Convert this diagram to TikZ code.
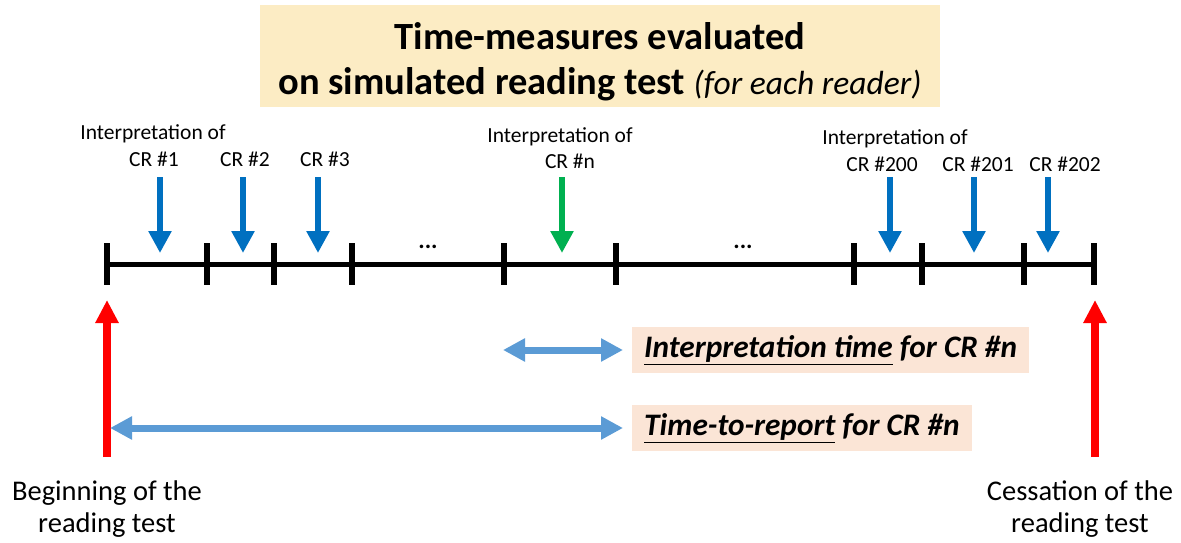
\documentclass[tikz,border=0pt]{standalone}
\usepackage{fontspec}
\setmainfont{Carlito}
\usetikzlibrary{arrows.meta}
\definecolor{crblue}{HTML}{0070C0}
\definecolor{crgreen}{HTML}{00B050}
\definecolor{spanblue}{HTML}{5B9BD5}
\definecolor{titlefill}{HTML}{FCECC4}
\definecolor{labelfill}{HTML}{FBE5D6}
\tikzset{
  timeline/.style={line width=5pt},
  tickmark/.style={line width=6pt},
  crarrow/.style={line width=6pt,crblue,-{Triangle[width=22pt,length=22pt]}},
  redarrow/.style={line width=8pt,red,-{Triangle[width=22pt,length=23pt]}},
  spanarrow/.style={line width=7pt,spanblue,{Triangle[width=22pt,length=22pt]}-{Triangle[width=22pt,length=22pt]}},
  smalllabel/.style={anchor=base,inner sep=0pt,font=\fontsize{21.5}{26}\selectfont},
  spanlabel/.style={anchor=west,fill=labelfill,inner xsep=12pt,inner ysep=0pt,minimum height=46pt,font=\fontsize{31.3}{36}\selectfont\bfseries\itshape},
  endlabel/.style={anchor=north,inner sep=0pt,align=center,font=\fontsize{28.5}{32}\selectfont}
}
\begin{document}
\begin{tikzpicture}[x=1pt,y=-1pt]
\useasboundingbox (0,0) rectangle (1181,543);
\fill[titlefill] (260,5) rectangle (940,107);
\node[align=center,inner sep=0pt,font=\fontsize{38.5}{45}\selectfont\bfseries] (title) at (600,62)
  {Time-measures evaluated\\on simulated reading test {\mdseries\itshape\fontsize{33.5}{45}\selectfont (for each reader)}};
\draw[timeline] (107,264) coordinate (start) -- (1095,264) coordinate (stop);
\foreach \x [count=\i] in {107,207,274,352,504,616,854,922,1024,1094}
  \draw[tickmark] (\x,243) coordinate (top\i) -- (\x,285) coordinate (bot\i);
\node[smalllabel] (int1) at (153,139) {Interpretation of};
\node[smalllabel] (cr1) at (154,166) {CR \#1};
\node[smalllabel] (cr2) at (245,166) {CR \#2};
\node[smalllabel] (cr3) at (325,166) {CR \#3};
\node[smalllabel] (intn) at (560,142) {Interpretation of};
\node[smalllabel] (crn) at (570,168) {CR \#n};
\node[smalllabel] (int200) at (895,144) {Interpretation of};
\node[smalllabel] (cr200) at (882,171) {CR \#200};
\node[smalllabel] (cr201) at (978,171) {CR \#201};
\node[smalllabel] (cr202) at (1065,171) {CR \#202};
\node[smalllabel,font=\fontsize{24}{28}\selectfont\bfseries] (dots1) at (428,248) {...};
\node[smalllabel,font=\fontsize{24}{28}\selectfont\bfseries] (dots2) at (743,248) {...};
\foreach \x [count=\i] in {160,243,318,890,974,1048} {
  \coordinate (from\i) at (\x,177);
  \coordinate (to\i) at (\x,253);
  \draw[crarrow] (from\i) -- (to\i);
}
\coordinate (fromn) at (562,177);
\coordinate (ton) at (562,253);
\draw[crarrow,crgreen] (fromn) -- (ton);
\coordinate (beginfoot) at (107,457);
\coordinate (begintip) at (107,300);
\coordinate (ceasefoot) at (1095,457);
\coordinate (ceasetip) at (1095,300);
\draw[redarrow] (beginfoot) -- (begintip);
\draw[redarrow] (ceasefoot) -- (ceasetip);
\node[spanlabel] (itime) at (632,350) {\underline{Interpretation time} for CR \#n};
\node[spanlabel] (ttr) at (632,428) {\underline{Time-to-report} for CR \#n};
\coordinate (itimeleft) at (503,350);
\coordinate (itimeright) at (623,350);
\coordinate (ttrleft) at (110,428);
\coordinate (ttrright) at (623,428);
\draw[spanarrow] (itimeleft) -- (itimeright);
\draw[spanarrow] (ttrleft) -- (ttrright);
\node[endlabel] (begin) at (107,481) {Beginning of the\\reading test};
\node[endlabel] (cease) at (1080,481) {Cessation of the\\reading test};
\end{tikzpicture}
\end{document}
